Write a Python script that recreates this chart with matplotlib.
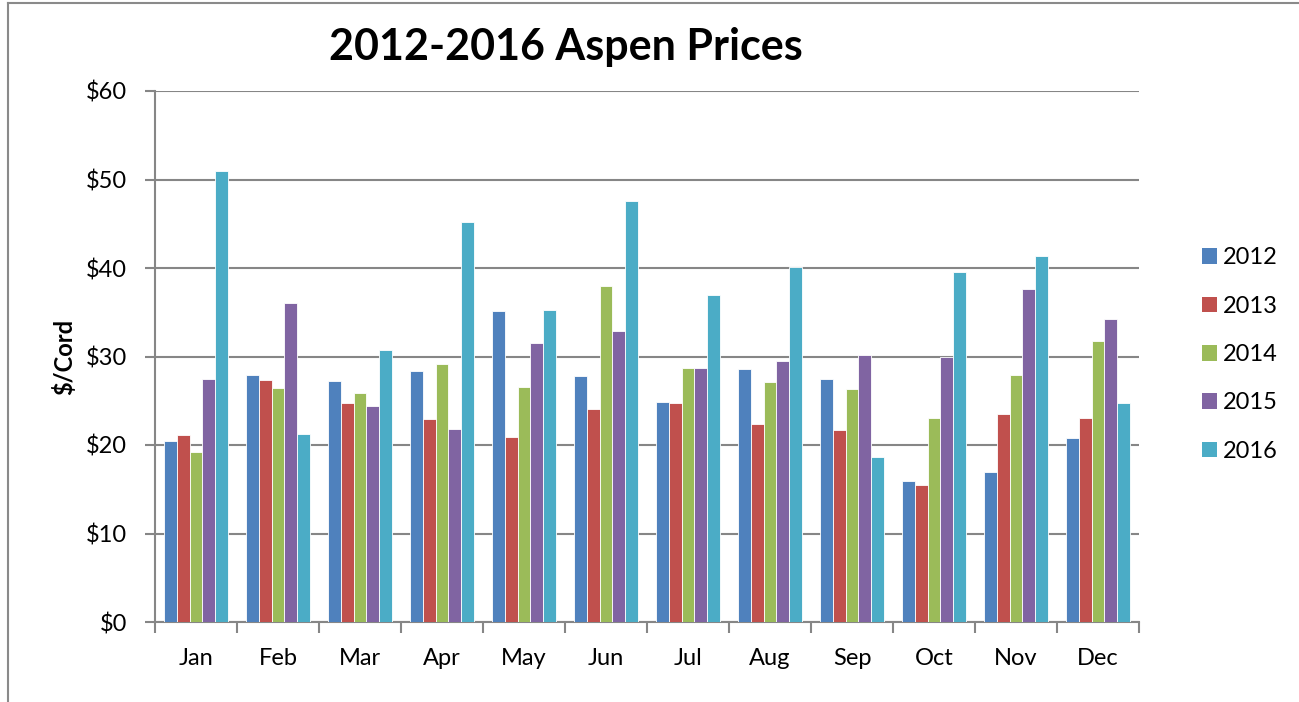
import matplotlib
matplotlib.use("Agg")
import matplotlib.pyplot as plt
from matplotlib.lines import Line2D
from matplotlib.patches import Patch
import numpy as np

months = ["Jan", "Feb", "Mar", "Apr", "May", "Jun",
          "Jul", "Aug", "Sep", "Oct", "Nov", "Dec"]
years = ["2012", "2013", "2014", "2015", "2016"]

p2012 = [20.4, 27.9, 27.2, 28.4, 35.1, 27.8, 24.9, 28.6, 27.5, 15.9, 16.9, 20.8]
p2013 = [21.1, 27.4, 24.8, 22.9, 20.9, 24.1, 24.8, 22.4, 21.7, 15.5, 23.5, 23.1]
p2014 = [19.2, 26.4, 25.9, 29.1, 26.5, 38.0, 28.7, 27.1, 26.3, 23.0, 27.9, 31.7]
p2015 = [27.5, 36.0, 24.4, 21.8, 31.5, 32.9, 28.7, 29.5, 30.2, 30.0, 37.6, 34.2]
p2016 = [51.0, 21.2, 30.7, 45.2, 35.3, 47.6, 36.9, 40.1, 18.6, 39.6, 41.4, 24.7]
series = [p2012, p2013, p2014, p2015, p2016]

colors = ["#4F81BD", "#C0504D", "#9BBB59", "#8064A2", "#4BACC6"]
grid_c = "#868686"

plt.rcParams['font.family'] = ['Lato', 'DejaVu Sans']

fig = plt.figure(figsize=(12.99, 7.02), dpi=100)
ax = fig.add_axes([155/1299, 1 - 622/702, (1139-155)/1299, (622-91)/702])

x = np.arange(len(months))
w = 0.155
for i, (yr, vals) in enumerate(zip(years, series)):
    ax.bar(x + (i - 2) * w, vals, width=w, color=colors[i],
           edgecolor="white", linewidth=0.6, label=yr, zorder=3)

ax.set_xlim(-0.5, 11.5)
ax.set_ylim(0, 60)
ax.set_yticks(np.arange(0, 61, 10))
ax.set_yticklabels(["$%d" % v for v in range(0, 61, 10)], fontsize=17)
ax.set_xticks(x)
ax.set_xticklabels(months, fontsize=17)
ax.set_xticks(np.arange(-0.5, 12, 1), minor=True)
ax.tick_params(axis="x", which="major", length=0, pad=19)
ax.tick_params(axis="x", which="minor", length=8, width=1.5, color=grid_c, direction="out")
ax.tick_params(axis="y", length=7, width=1.5, color=grid_c, pad=13)

ax.grid(axis="y", color=grid_c, linewidth=1.5, zorder=0)
for s in ["top", "right"]:
    ax.spines[s].set_visible(False)
for s in ["left", "bottom"]:
    ax.spines[s].set_color(grid_c)
    ax.spines[s].set_linewidth(1.5)

ax.set_ylabel("$/Cord", fontsize=17, fontweight="bold", labelpad=7)

fig.text(566/1299, 1 - 47/702, "2012-2016 Aspen Prices", fontsize=31,
         fontweight="bold", ha="center", va="center")

handles = [Patch(facecolor=c, edgecolor="none") for c in colors]
fig.legend(handles, years, loc="upper left", bbox_to_anchor=(1181/1299, 1 - 226/702),
           frameon=False, fontsize=17, handlelength=0.64, handleheight=0.64,
           handletextpad=0.25, labelspacing=1.16)

# outer chart border
fig.add_artist(Line2D([8/1299, 8/1299], [0, 1 - 3/702], transform=fig.transFigure,
                      color="#8a8a8a", linewidth=1.5))
fig.add_artist(Line2D([8/1299, 1], [1 - 3/702, 1 - 3/702], transform=fig.transFigure,
                      color="#8a8a8a", linewidth=1.5))

fig.savefig("out.png", dpi=100)
